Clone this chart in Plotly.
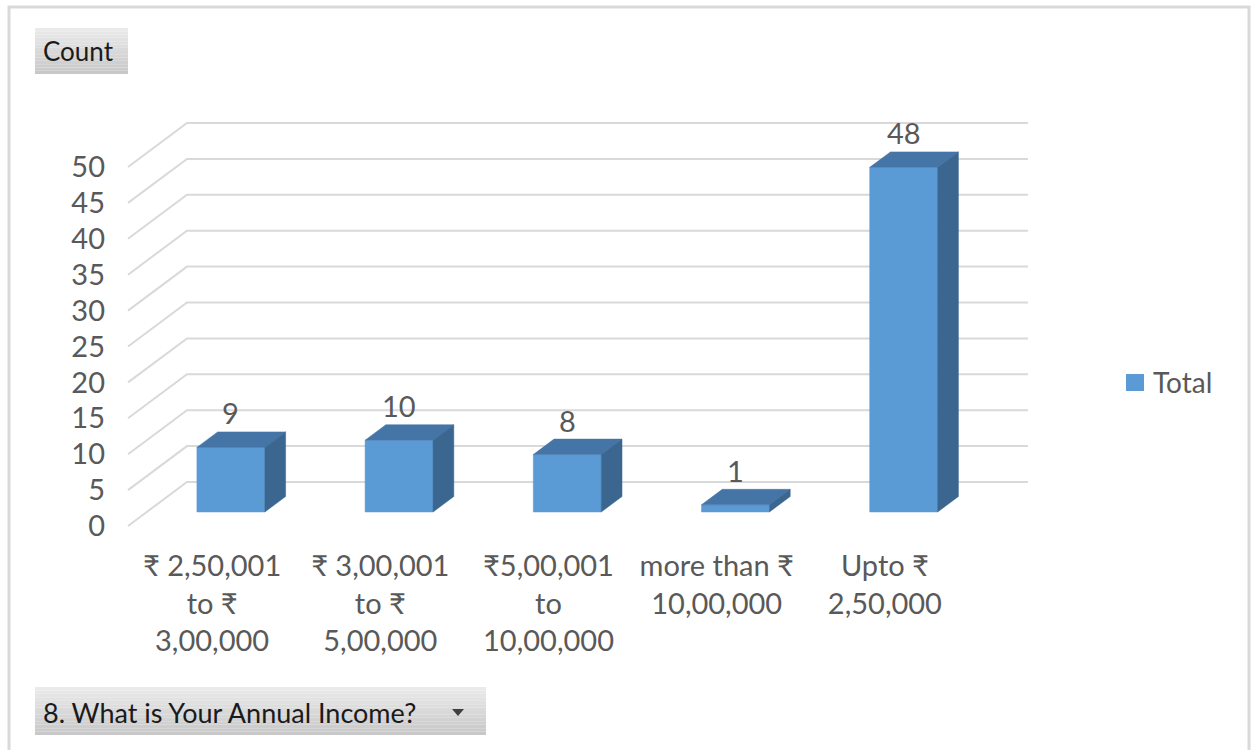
import plotly.graph_objects as go

# ---- data -------------------------------------------------------------
categories = [
    "₹ 2,50,001<br>to ₹<br>3,00,000",
    "₹ 3,00,001<br>to ₹<br>5,00,000",
    "₹5,00,001<br>to<br>10,00,000",
    "more than ₹<br>10,00,000",
    "Upto ₹<br>2,50,000",
]
values = [9, 10, 8, 1, 48]
y_ticks = [0, 5, 10, 15, 20, 25, 30, 35, 40, 45, 50]
series_name = "Total"
value_field = "Count"
category_field = "8. What is Your Annual Income?"

# ---- styling ------------------------------------------------------------
FONT = "Lato, 'Noto Sans', 'DejaVu Sans', sans-serif"
TEXT_GREY = "#595959"
GRID = "#d9d9d9"
FRONT = "#5b9bd5"
TOP = "#4475a6"
SIDE = "#3a6690"

W, H = 1254, 750
# plot-area frame in pixels
L, R, T, B = 120, 1040, 108, 534
# pixel scale of the front plane
PX0, PX_PER_CAT = 212.1, 168.2       # x pixel of category 0, pixels per category
PY0, PX_PER_VAL = 526.0, 7.18        # y pixel of value 0, pixels per unit value

x_range = [(L - PX0) / PX_PER_CAT, (R - PX0) / PX_PER_CAT]
y_range = [(PY0 - B) / PX_PER_VAL, (PY0 - T) / PX_PER_VAL]

# oblique depth projection (depth 0 = front edge of floor, 1 = back wall)
DEPTH_DX = 59.0 / PX_PER_CAT
DEPTH_DY = 44.0 / PX_PER_VAL
BAR_FRONT, BAR_BACK, HALF_W = 0.318, 0.67, 0.202
n = len(categories)


def proj(c, v, d):
    return c + d * DEPTH_DX, v + d * DEPTH_DY


def add_poly(xs, ys, pts):
    for p in pts:
        xs.append(p[0])
        ys.append(p[1])
    xs.append(pts[0][0])
    ys.append(pts[0][1])
    xs.append(None)
    ys.append(None)


fig = go.Figure()

# gridlines: diagonal on the side wall, then across the back wall
gx, gy = [], []
for t in y_ticks:
    for p in (proj(-0.5, t, 0), proj(-0.5, t, 1), proj(n - 0.5, t, 1)):
        gx.append(p[0])
        gy.append(p[1])
    gx.append(None)
    gy.append(None)
fig.add_trace(go.Scatter(x=gx, y=gy, mode="lines", line=dict(color=GRID, width=2),
                         hoverinfo="skip", showlegend=False))

# 3-D columns
fx, fy, tx, ty, sx, sy = [], [], [], [], [], []
for i, v in enumerate(values):
    l, r = i - HALF_W, i + HALF_W
    add_poly(fx, fy, [proj(l, 0, BAR_FRONT), proj(r, 0, BAR_FRONT),
                      proj(r, v, BAR_FRONT), proj(l, v, BAR_FRONT)])
    add_poly(tx, ty, [proj(l, v, BAR_FRONT), proj(r, v, BAR_FRONT),
                      proj(r, v, BAR_BACK), proj(l, v, BAR_BACK)])
    add_poly(sx, sy, [proj(r, 0, BAR_FRONT), proj(r, 0, BAR_BACK),
                      proj(r, v, BAR_BACK), proj(r, v, BAR_FRONT)])

for xs, ys, col in ((fx, fy, FRONT), (tx, ty, TOP), (sx, sy, SIDE)):
    fig.add_trace(go.Scatter(x=xs, y=ys, mode="lines", fill="toself", fillcolor=col,
                             line=dict(color=col, width=0.5), hoverinfo="skip",
                             showlegend=False))

# value labels above each column
for i, v in enumerate(values):
    ay = proj(i, v, BAR_BACK)[1]
    ax = proj(i, v, BAR_FRONT)[0]
    fig.add_annotation(x=ax, y=ay, text=str(v), showarrow=False, yanchor="middle",
                       yshift=19, font=dict(family=FONT, size=29, color=TEXT_GREY))


def px_x(p):
    return (p - L) / (R - L)


def px_y(p):
    return (B - p) / (B - T)


def button(x0, y0, x1, y1):
    steps = 14
    top_rgb, bot_rgb = (234, 234, 234), (200, 200, 200)
    for k in range(steps):
        f = k / (steps - 1)
        c = tuple(round(a + (b - a) * f) for a, b in zip(top_rgb, bot_rgb))
        ya = y0 + (y1 - y0) * k / steps
        yb = y0 + (y1 - y0) * (k + 1) / steps
        fig.add_shape(type="rect", xref="paper", yref="paper",
                      x0=px_x(x0), x1=px_x(x1), y0=px_y(ya), y1=px_y(yb),
                      line=dict(width=0), fillcolor="rgb(%d,%d,%d)" % c, layer="below")


# chart-area frame
fig.add_shape(type="rect", xref="paper", yref="paper",
              x0=px_x(9), x1=px_x(1249), y0=px_y(7), y1=px_y(770),
              line=dict(color="#d9d9d9", width=3), layer="below")

# field buttons
button(35, 28, 128, 74)
fig.add_annotation(xref="paper", yref="paper", x=px_x(41), y=px_y(51), xanchor="left",
                   yanchor="middle", text=value_field, showarrow=False,
                   font=dict(family=FONT, size=26, color="#1a1a1a"))
button(35, 687, 486, 735)
fig.add_annotation(xref="paper", yref="paper", x=px_x(41), y=px_y(712), xanchor="left",
                   yanchor="middle", text=category_field, showarrow=False,
                   font=dict(family=FONT, size=27, color="#1a1a1a"))
fig.add_shape(type="path", xref="paper", yref="paper",
              path="M %f %f L %f %f L %f %f Z" % (px_x(452), px_y(709), px_x(464), px_y(709),
                                                  px_x(458), px_y(716)),
              fillcolor="#404040", line=dict(width=0))

# legend
fig.add_shape(type="rect", xref="paper", yref="paper",
              x0=px_x(1126), x1=px_x(1144), y0=px_y(374), y1=px_y(391),
              fillcolor=FRONT, line=dict(width=0))
fig.add_annotation(xref="paper", yref="paper", x=px_x(1151), y=px_y(382), xanchor="left",
                   yanchor="middle", text=series_name, showarrow=False,
                   font=dict(family=FONT, size=28, color=TEXT_GREY))

fig.update_layout(
    width=W, height=H,
    margin=dict(l=L, r=W - R, t=T, b=H - B, pad=0),
    paper_bgcolor="white", plot_bgcolor="white",
    showlegend=False,
    xaxis=dict(range=x_range, tickvals=list(range(n)), ticktext=categories,
               showgrid=False, zeroline=False, showline=False, ticks="",
               ticklabelstandoff=12,
               tickfont=dict(family=FONT, size=29, color=TEXT_GREY), fixedrange=True),
    yaxis=dict(range=y_range, tickvals=y_ticks, showgrid=False, zeroline=False,
               showline=False, ticks="", ticklabelstandoff=14,
               tickfont=dict(family=FONT, size=29, color=TEXT_GREY), fixedrange=True),
)

fig.write_html("out.html")
